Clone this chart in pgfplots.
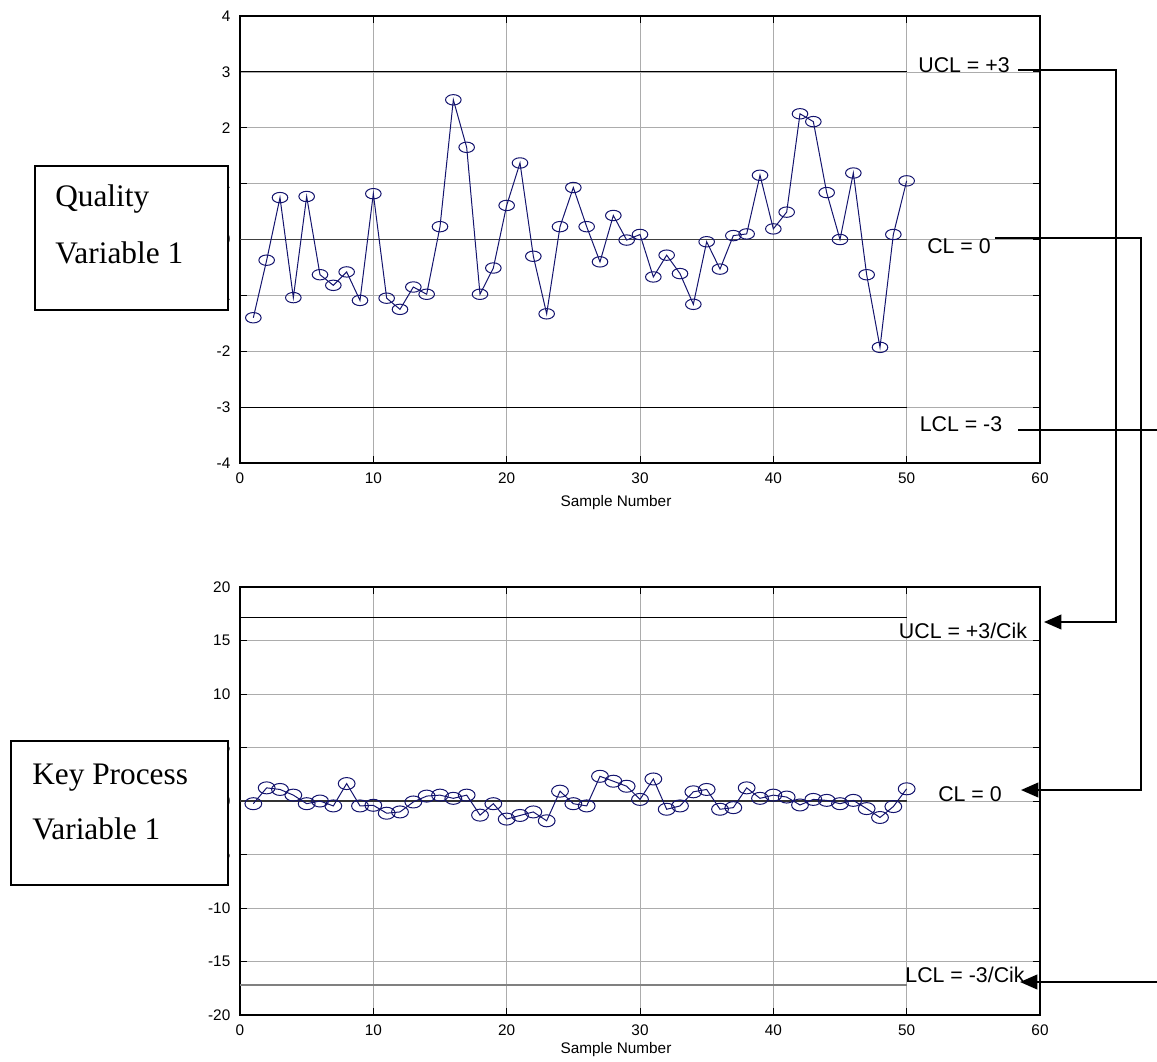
\documentclass[border=0pt]{standalone}
\usepackage{fontspec}
\setmainfont{Liberation Serif}
\setsansfont{Liberation Sans}
\usepackage{pgfplots}
\pgfplotsset{compat=1.18}
\usetikzlibrary{arrows.meta}

\definecolor{dataclr}{RGB}{20,20,110}

\pgfplotsset{
  spc/.style={
    scale only axis, width=600pt,
    xmin=0, xmax=60, xtick={0,10,...,60},
    grid=major, major grid style={gray!65, line width=0.5pt},
    axis line style={line width=1.1pt},
    tick style={black, line width=0.6pt}, tick align=inside, major tick length=5pt,
    tick label style={font=\sffamily\fontsize{11.5}{13}\selectfont},
    /pgf/number format/assume math mode=true,
    xticklabel style={anchor=center, yshift=-11.25pt},
    yticklabel style={xshift=-3.75pt},
    xlabel={Sample Number},
    xlabel style={font=\sffamily\fontsize{11.5}{13}\selectfont, anchor=center},
    clip=false,
  },
  spcdata/.style={dataclr, line width=0.75pt, mark=o,
    mark options={solid, xscale=1.5}, mark size=3.9pt},
}

\begin{document}
\begin{tikzpicture}
\useasboundingbox (0,0) rectangle (867.75pt,-795.75pt);

% quality variable chart
\begin{axis}[spc, at={(180pt,-347.25pt)}, anchor=south west, height=335.25pt,
    ymin=-4, ymax=4, ytick={-4,...,4},
    xlabel style={at={(axis description cs:0.47,-0.089)}}]
\addplot[black, line width=0.75pt] coordinates {(0,3) (50,3)};
\addplot[black!75, line width=1.1pt] coordinates {(0,0) (50,0)};
\addplot[black, line width=0.75pt] coordinates {(0,-3) (50,-3)};
\addplot[spcdata] coordinates {
 (1,-1.40) (2,-0.37) (3,0.75) (4,-1.04) (5,0.77) (6,-0.63) (7,-0.82) (8,-0.58)
 (9,-1.09) (10,0.82) (11,-1.05) (12,-1.25) (13,-0.85) (14,-0.98) (15,0.23)
 (16,2.50) (17,1.65) (18,-0.98) (19,-0.51) (20,0.61) (21,1.37) (22,-0.30)
 (23,-1.33) (24,0.23) (25,0.93) (26,0.23) (27,-0.40) (28,0.43) (29,-0.01)
 (30,0.09) (31,-0.67) (32,-0.28) (33,-0.61) (34,-1.16) (35,-0.04) (36,-0.53)
 (37,0.07) (38,0.10) (39,1.15) (40,0.19) (41,0.49) (42,2.25) (43,2.11)
 (44,0.84) (45,0.00) (46,1.19) (47,-0.63) (48,-1.93) (49,0.09) (50,1.05)
};
\end{axis}

% key process variable chart
\begin{axis}[spc, at={(180pt,-761.25pt)}, anchor=south west, height=321pt,
    ymin=-20, ymax=20, ytick={-20,-15,...,20},
    xlabel style={at={(axis description cs:0.47,-0.08)}},
    spcdata/.append style={mark size=4.5pt, mark options={solid, xscale=1.4}}]
\addplot[black, line width=0.6pt] coordinates {(0,17.2) (50,17.2)};
\addplot[black!80, line width=0.9pt] coordinates {(0,0) (50,0)};
\addplot[gray, line width=0.9pt] coordinates {(0,-17.2) (50,-17.2)};
\addplot[spcdata] coordinates {
 (1,-0.25) (2,1.23) (3,1.08) (4,0.55) (5,-0.25) (6,0.00) (7,-0.46) (8,1.63)
 (9,-0.46) (10,-0.40) (11,-1.14) (12,-1.02) (13,-0.09) (14,0.46) (15,0.55)
 (16,0.25) (17,0.55) (18,-1.32) (19,-0.25) (20,-1.69) (21,-1.35) (22,-1.02)
 (23,-1.85) (24,0.92) (25,-0.25) (26,-0.46) (27,2.31) (28,1.85) (29,1.38)
 (30,0.15) (31,2.06) (32,-0.77) (33,-0.46) (34,0.86) (35,1.08) (36,-0.77)
 (37,-0.62) (38,1.23) (39,0.25) (40,0.55) (41,0.37) (42,-0.37) (43,0.15)
 (44,0.06) (45,-0.25) (46,0.06) (47,-0.71) (48,-1.54) (49,-0.52) (50,1.14)
};
\end{axis}

% annotations, in pixel units of the reference
\begin{scope}[x=0.75pt, y=-0.75pt]
  \draw[fill=white, line width=1.1pt] (35,166) rectangle (228,310);
  \node[anchor=base west, inner sep=0, font=\fontsize{23.5}{28}\selectfont] at (55,206) {Quality};
  \node[anchor=base west, inner sep=0, font=\fontsize{23.5}{28}\selectfont] at (55,263) {Variable 1};

  \draw[fill=white, line width=1.1pt] (11,741) rectangle (228,885);
  \node[anchor=base west, inner sep=0, font=\fontsize{23.5}{28}\selectfont] at (32,784) {Key Process};
  \node[anchor=base west, inner sep=0, font=\fontsize{23.5}{28}\selectfont] at (32,839) {Variable 1};

  \tikzset{lbl/.style={anchor=base, inner sep=0, font=\sffamily\fontsize{16}{19}\selectfont}}
  \node[lbl] at (964,72) {UCL = +3};
  \node[lbl] at (959,253) {CL = 0};
  \node[lbl] at (961,431) {LCL = -3};
  \node[lbl] at (963,638) {UCL = +3/Cik};
  \node[lbl] at (970,801) {CL = 0};
  \node[lbl] at (965,982) {LCL = -3/Cik};

  \tikzset{conn/.style={line width=1.4pt, -{Triangle[length=13pt,width=11pt]}}}
  \draw[conn] (1018,70) -- (1116,70) -- (1116,622) -- (1044,622);
  \draw[conn] (995,238) -- (1141,238) -- (1141,790) -- (1021,790);
  \draw[line width=1.4pt] (1018,430) -- (1170,430);
  \draw[conn] (1170,982) -- (1020,982);
\end{scope}
\end{tikzpicture}
\end{document}
